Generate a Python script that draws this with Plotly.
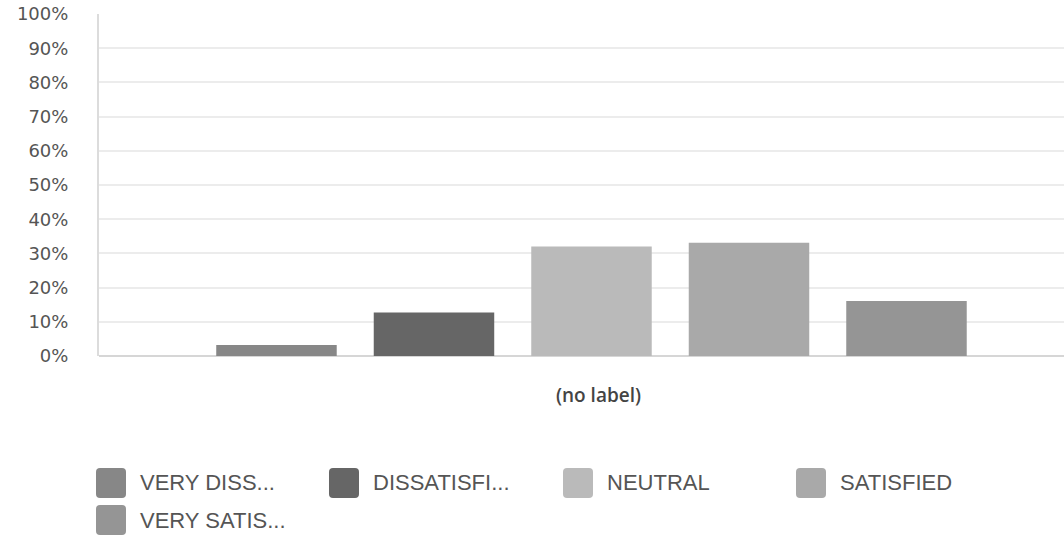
import plotly.graph_objects as go

# Survey results: share of respondents per satisfaction level
category = ["(no label)"]
responses = ["VERY DISSATISFIED", "DISSATISFIED", "NEUTRAL", "SATISFIED", "VERY SATISFIED"]
legend_labels = ["VERY DISS...", "DISSATISFI...", "NEUTRAL", "SATISFIED", "VERY SATIS..."]
shares = [3.2, 12.7, 32.0, 33.1, 16.1]
colors = ["#878787", "#666666", "#bababa", "#a9a9a9", "#959595"]
y_ticks = [0, 10, 20, 30, 40, 50, 60, 70, 80, 90, 100]
y_tick_text = [f"{v}%" for v in y_ticks]

W, H = 1064, 536
ML, MR, MT, MB = 99, 0, 14, 180
PW, PH = W - ML - MR, H - MT - MB

fig = go.Figure()
for name, val, col in zip(responses, shares, colors):
    fig.add_trace(go.Bar(
        x=category, y=[val], name=name,
        marker=dict(color=col, line=dict(width=0)),
        showlegend=False,
        hovertemplate="%{y:.1f}%<extra>" + name + "</extra>",
    ))


def px_to_paper(px, py):
    return (px - ML) / PW, (H - MB - py) / PH


def rounded_rect(x0, y0, x1, y1, r):
    # rounded square path, pixel inputs converted to paper coordinates
    def P(x, y):
        a, b = px_to_paper(x, y)
        return f"{a:.5f},{b:.5f}"
    return (
        f"M{P(x0 + r, y0)} L{P(x1 - r, y0)} Q{P(x1, y0)} {P(x1, y0 + r)} "
        f"L{P(x1, y1 - r)} Q{P(x1, y1)} {P(x1 - r, y1)} "
        f"L{P(x0 + r, y1)} Q{P(x0, y1)} {P(x0, y1 - r)} "
        f"L{P(x0, y0 + r)} Q{P(x0, y0)} {P(x0 + r, y0)} Z"
    )


# custom legend: large rounded swatches with labels
item_x = [96, 329, 563, 796, 96]
item_y = [483, 483, 483, 483, 520]
sw = 30
for lbl, col, lx, ly in zip(legend_labels, colors, item_x, item_y):
    fig.add_shape(
        type="path", xref="paper", yref="paper",
        path=rounded_rect(lx, ly - sw / 2, lx + sw, ly + sw / 2, 4),
        fillcolor=col, line=dict(width=0), layer="above",
    )
    tx, ty = px_to_paper(lx + sw + 12, ly)
    fig.add_annotation(
        x=tx, y=ty, xref="paper", yref="paper", text=lbl, showarrow=False,
        xanchor="left", yanchor="middle",
        font=dict(family="Liberation Sans", size=22, color="#555555"),
    )

fig.update_layout(
    width=W, height=H,
    margin=dict(l=ML, r=MR, t=MT, b=MB, pad=0),
    paper_bgcolor="white", plot_bgcolor="white",
    barmode="group", bargap=0.2, bargroupgap=0.235,
    showlegend=False,
    xaxis=dict(
        range=[-0.5003, 0.48],
        showgrid=False, zeroline=False,
        showline=False,
        ticks="", ticklabelstandoff=26, ticklabelshift=7,
        tickfont=dict(family="Open Sans", size=19, color="#444444", weight=600),
        fixedrange=True,
    ),
    yaxis=dict(
        range=[0, 100], tickmode="array", tickvals=y_ticks, ticktext=y_tick_text,
        showgrid=True, gridcolor="#ececec", gridwidth=2,
        zeroline=True, zerolinecolor="#d6d6d6", zerolinewidth=2,
        showline=True, linecolor="#dcdcdc", linewidth=2,
        ticks="", ticklabelstandoff=25,
        tickfont=dict(family="DejaVu Sans", size=18, color="#555555"),
        fixedrange=True,
    ),
)

fig.write_html("out.html")
